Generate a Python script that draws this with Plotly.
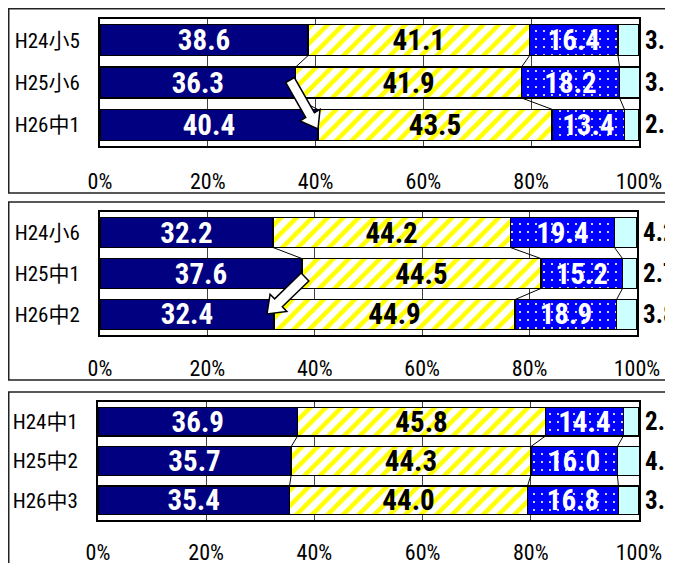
import math
import plotly.graph_objects as go

# page is rendered with an 8px body margin, so the figure is offset by 8px
OFF = 8
W, H = 673 - OFF, 563 - OFF

# ---------------- data ----------------
panel_cats = [
    ["H24小5", "H25小6", "H26中1"],
    ["H24小6", "H25中1", "H26中2"],
    ["H24中1", "H25中2", "H26中3"],
]
seg1 = [[38.6, 36.3, 40.4], [32.2, 37.6, 32.4], [36.9, 35.7, 35.4]]
seg2 = [[41.1, 41.9, 43.5], [44.2, 44.5, 44.9], [45.8, 44.3, 44.0]]
seg3 = [[16.4, 18.2, 13.4], [19.4, 15.2, 18.9], [14.4, 16.0, 16.8]]
seg4 = [[3.8, 3.7, 2.7], [4.2, 2.7, 3.8], [2.9, 4.1, 3.8]]
x_tick_vals = [0, 20, 40, 60, 80, 100]
x_tick_text = ["0%", "20%", "40%", "60%", "80%", "100%"]

# ---------------- layout geometry (page pixels) ----------------
plot_px = [  # x0, x1, y0, y1
    (100, 639, 19, 146),
    (100, 637, 212, 335),
    (98, 639, 402, 520),
]
box_px = [(8.75, 8.75, 690, 193), (8.75, 202, 690, 380), (8.75, 392, 690, 600)]
tick_standoff = [15, 13, 12]
BAR_W = 0.73

NUM_FONT = "Roboto Condensed, Open Sans Condensed, DejaVu Sans Condensed, sans-serif"
CAT_FONT = "Roboto Condensed, Noto Sans CJK JP, sans-serif"

def px2paper_x(x):
    return (x - OFF) / W

def px2paper_y(y):
    return 1 - (y - OFF) / H

fig = go.Figure()

seg_styles = [
    dict(color="#000080", line=dict(color="black", width=1.5)),
    dict(color="white", line=dict(color="black", width=1.5),
         pattern=dict(shape="/", fgcolor="#ffff00", bgcolor="white", size=11, solidity=0.42, fillmode="replace")),
    dict(color="#0000ff", line=dict(color="black", width=1.5),
         pattern=dict(shape=".", fgcolor="white", bgcolor="#0000ff", size=8, solidity=0.06, fillmode="replace")),
    dict(color="#ccffff", line=dict(color="black", width=1.5)),
]
seg_text_colors = ["white", "black", "white", None]

annotations = []
for p in range(3):
    ax = "" if p == 0 else str(p + 1)
    xa, ya = "x" + ax, "y" + ax
    segs = [seg1[p], seg2[p], seg3[p], seg4[p]]
    ys = [0, 1, 2]
    for k, vals in enumerate(segs):
        kw = {}
        if seg_text_colors[k] is not None:
            kw = dict(text=[f"{v:.1f}" for v in vals], textposition="inside",
                      insidetextanchor="middle", constraintext="none",
                      textfont=dict(family=NUM_FONT, size=29, color=seg_text_colors[k], weight="bold"))
        fig.add_trace(go.Bar(x=vals, y=ys, orientation="h", width=BAR_W,
                             marker=seg_styles[k], xaxis=xa, yaxis=ya,
                             showlegend=False, hoverinfo="skip", **kw))
    # series lines between bars
    lx, ly = [], []
    cums = []
    for i in range(3):
        c = 0
        row = []
        for k in range(3):
            c += segs[k][i]
            row.append(c)
        cums.append(row)
    for k in range(3):
        for i in range(2):
            lx += [cums[i][k], cums[i + 1][k], None]
            ly += [i + BAR_W / 2, i + 1 - BAR_W / 2, None]
    fig.add_trace(go.Scatter(x=lx, y=ly, mode="lines", line=dict(color="black", width=1),
                             xaxis=xa, yaxis=ya, showlegend=False, hoverinfo="skip"))
    # outside labels for 4th segment
    for i, v in enumerate(seg4[p]):
        annotations.append(dict(x=100, y=i, xref=xa, yref=ya, xanchor="left", yanchor="middle",
                                xshift=4, text=f"{v:.1f}", showarrow=False,
                                font=dict(family=NUM_FONT, size=25, color="black", weight="bold")))

    x0, x1, y0, y1 = plot_px[p]
    fig.update_layout(**{
        "xaxis" + ax: dict(domain=[px2paper_x(x0), px2paper_x(x1)], range=[0, 100],
                           anchor=ya, tickvals=x_tick_vals, ticktext=x_tick_text,
                           showgrid=True, gridcolor="#404040", gridwidth=1,
                           showline=True, mirror=True, linecolor="black", linewidth=2,
                           zeroline=False, ticks="", ticklabelstandoff=tick_standoff[p],
                           tickfont=dict(family=NUM_FONT, size=22, color="black"),
                           automargin=False, fixedrange=True),
        "yaxis" + ax: dict(domain=[px2paper_y(y1), px2paper_y(y0)], range=[2.5, -0.5],
                           anchor=xa, tickvals=[0, 1, 2], ticktext=panel_cats[p],
                           showgrid=False, showline=True, mirror=True, linecolor="black",
                           linewidth=2, zeroline=False, ticks="", ticklabelstandoff=14,
                           tickfont=dict(family=CAT_FONT, size=21, color="black"),
                           automargin=False, fixedrange=True),
    })

shapes = []
# panel boxes
for (bx0, by0, bx1, by1) in box_px:
    shapes.append(dict(type="rect", xref="paper", yref="paper",
                       x0=px2paper_x(bx0), x1=px2paper_x(bx1),
                       y0=px2paper_y(by1), y1=px2paper_y(by0),
                       line=dict(color="#222222", width=1.5), fillcolor="rgba(0,0,0,0)"))


def block_arrow(tail, tip, shaft_w, head_w, head_len):
    dx, dy = tip[0] - tail[0], tip[1] - tail[1]
    L = math.hypot(dx, dy)
    ux, uy = dx / L, dy / L
    nx, ny = -uy, ux
    nkx, nky = tip[0] - ux * head_len, tip[1] - uy * head_len
    pts = [
        (tail[0] + nx * shaft_w / 2, tail[1] + ny * shaft_w / 2),
        (nkx + nx * shaft_w / 2, nky + ny * shaft_w / 2),
        (nkx + nx * head_w / 2, nky + ny * head_w / 2),
        tip,
        (nkx - nx * head_w / 2, nky - ny * head_w / 2),
        (nkx - nx * shaft_w / 2, nky - ny * shaft_w / 2),
        (tail[0] - nx * shaft_w / 2, tail[1] - ny * shaft_w / 2),
    ]
    path = "M " + " L ".join(f"{px2paper_x(x):.5f},{px2paper_y(y):.5f}" for x, y in pts) + " Z"
    return dict(type="path", xref="paper", yref="paper", path=path,
                fillcolor="white", line=dict(color="black", width=1.5), layer="above")


shapes.append(block_arrow((290, 80), (318, 129), 10, 23, 16))
shapes.append(block_arrow((305, 277), (267, 314), 11, 24, 16))

fig.update_layout(width=W, height=H, margin=dict(l=0, r=0, t=0, b=0, autoexpand=False),
                  paper_bgcolor="white", plot_bgcolor="white",
                  barmode="stack", bargap=0.27, shapes=shapes, annotations=annotations,
                  showlegend=False)

fig.write_html("out.html")
